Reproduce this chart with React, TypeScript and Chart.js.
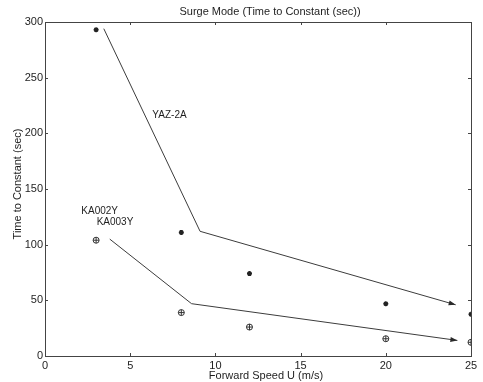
import React, { useEffect, useRef } from "react";
import { Chart, registerables } from "chart.js";

Chart.register(...registerables);

// Measured time constants (surge mode) versus forward speed
const speeds = [3, 8, 12, 20, 25];
const yaz2a = [293, 111, 74, 47, 37.5];
const ka00y = [104, 39, 26, 15.5, 12.3];

// Hand-drawn trend arrows through each group
const yazTrendX = [3.45, 9.1, 24.1];
const yazTrendY = [294, 112, 46];
const kaTrendX = [3.8, 8.6, 24.2];
const kaTrendY = [105, 47, 14];

// Axis ticks
const xTicks = [0, 5, 10, 15, 20, 25];
const yTicks = [0, 50, 100, 150, 200, 250, 300];

// Text annotations (anchored in data units)
const labelNames = ["YAZ-2A", "KA002Y", "KA003Y"];
const labelX = [6.3, 2.13, 3.03];
const labelY = [216, 130, 120];

const chartTitle = "Surge Mode (Time to Constant (sec))";
const xTitle = "Forward Speed U (m/s)";
const yTitle = "Time to Constant (sec)";

const FONT = "'Liberation Sans', Arial, Helvetica, sans-serif";
const INK = "#1e1e1e";
const LINE = "#3c3c3c";

const overlay = {
  id: "matlabFrame",
  afterDraw(chart: any) {
    const { ctx, chartArea: a, scales } = chart;
    const xs = scales.x;
    const ys = scales.y;
    ctx.save();

    // axes box
    ctx.strokeStyle = "#444";
    ctx.lineWidth = 1;
    ctx.strokeRect(Math.round(a.left) + 0.5, Math.round(a.top) + 0.5, Math.round(a.right - a.left), Math.round(a.bottom - a.top));

    // inward tick marks on all four sides
    const tl = 3;
    ctx.beginPath();
    xTicks.forEach((v) => {
      const px = Math.round(xs.getPixelForValue(v)) + 0.5;
      ctx.moveTo(px, a.bottom);
      ctx.lineTo(px, a.bottom - tl);
      ctx.moveTo(px, a.top);
      ctx.lineTo(px, a.top + tl);
    });
    yTicks.forEach((v) => {
      const py = Math.round(ys.getPixelForValue(v)) + 0.5;
      ctx.moveTo(a.left, py);
      ctx.lineTo(a.left + tl, py);
      ctx.moveTo(a.right, py);
      ctx.lineTo(a.right - tl, py);
    });
    ctx.stroke();

    // arrowheads at the end of each trend line
    const arrow = (tx: number[], ty: number[]) => {
      const n = tx.length;
      const x1 = xs.getPixelForValue(tx[n - 2]);
      const y1 = ys.getPixelForValue(ty[n - 2]);
      const x2 = xs.getPixelForValue(tx[n - 1]);
      const y2 = ys.getPixelForValue(ty[n - 1]);
      const ang = Math.atan2(y2 - y1, x2 - x1);
      const len = 7;
      const hw = 2.5;
      ctx.beginPath();
      ctx.moveTo(x2, y2);
      ctx.lineTo(x2 - len * Math.cos(ang) + hw * Math.sin(ang), y2 - len * Math.sin(ang) - hw * Math.cos(ang));
      ctx.lineTo(x2 - len * Math.cos(ang) - hw * Math.sin(ang), y2 - len * Math.sin(ang) + hw * Math.cos(ang));
      ctx.closePath();
      ctx.fillStyle = "#2a2a2a";
      ctx.fill();
    };
    arrow(yazTrendX, yazTrendY);
    arrow(kaTrendX, kaTrendY);

    // series annotations
    ctx.fillStyle = INK;
    ctx.font = `10px ${FONT}`;
    ctx.textAlign = "left";
    ctx.textBaseline = "middle";
    labelNames.forEach((t, i) => {
      ctx.fillText(t, xs.getPixelForValue(labelX[i]), ys.getPixelForValue(labelY[i]));
    });

    // title and axis titles
    ctx.font = `11px ${FONT}`;
    ctx.textAlign = "center";
    ctx.fillText(chartTitle, 270, 12);
    ctx.fillText(xTitle, 266, 376);
    ctx.translate(18, 184);
    ctx.rotate(-Math.PI / 2);
    ctx.fillText(yTitle, 0, 0);

    ctx.restore();
  },
};

export default function App() {
  const ref = useRef<HTMLCanvasElement | null>(null);

  useEffect(() => {
    document.body.style.margin = "0";
    if (!ref.current) return;
    const pts = (xsv: number[], ysv: number[]) => xsv.map((x, i) => ({ x, y: ysv[i] }));
    const tickFont = { family: FONT, size: 11 };

    const chart = new Chart(ref.current, {
      type: "scatter",
      data: {
        datasets: [
          {
            label: "YAZ-2A",
            data: pts(speeds, yaz2a),
            pointStyle: "star",
            pointRadius: 2.5,
            borderColor: "#222",
            backgroundColor: "#222",
            borderWidth: 1.5,
            showLine: false,
          },
          {
            label: "KA002Y / KA003Y",
            data: pts(speeds, ka00y),
            pointStyle: "circle",
            pointRadius: 3,
            borderColor: "#333",
            backgroundColor: "rgba(0,0,0,0)",
            borderWidth: 1,
            showLine: false,
          },
          {
            label: "KA002Y / KA003Y cross",
            data: pts(speeds, ka00y),
            pointStyle: "cross",
            pointRadius: 3,
            borderColor: "#333",
            borderWidth: 1,
            showLine: false,
          },
          {
            label: "YAZ-2A trend",
            data: pts(yazTrendX, yazTrendY),
            showLine: true,
            pointRadius: 0,
            borderColor: LINE,
            borderWidth: 1,
            tension: 0,
          },
          {
            label: "KA trend",
            data: pts(kaTrendX, kaTrendY),
            showLine: true,
            pointRadius: 0,
            borderColor: LINE,
            borderWidth: 1,
            tension: 0,
          },
        ],
      },
      options: {
        responsive: false,
        animation: false,
        events: [],
        layout: { padding: { left: 0, right: 12, top: 22, bottom: 0 } },
        plugins: {
          legend: { display: false },
          tooltip: { enabled: false },
          title: { display: false },
        },
        scales: {
          x: {
            type: "linear",
            min: 0,
            max: 25,
            afterBuildTicks: (s: any) => {
              s.ticks = xTicks.map((v) => ({ value: v }));
            },
            afterFit: (s: any) => {
              s.height = 26;
            },
            grid: { display: false, drawTicks: false },
            border: { display: false },
            ticks: { padding: 3, font: tickFont, color: INK, maxRotation: 0 },
          },
          y: {
            type: "linear",
            min: 0,
            max: 300,
            afterBuildTicks: (s: any) => {
              s.ticks = yTicks.map((v) => ({ value: v }));
            },
            afterFit: (s: any) => {
              s.width = 45;
            },
            grid: { display: false, drawTicks: false },
            border: { display: false },
            ticks: { padding: 2, font: tickFont, color: INK },
          },
        },
      },
      plugins: [overlay],
    });

    return () => chart.destroy();
  }, []);

  return (
    <div style={{ width: 483, height: 382, background: "#fff" }}>
      <canvas ref={ref} width={483} height={382} />
    </div>
  );
}
